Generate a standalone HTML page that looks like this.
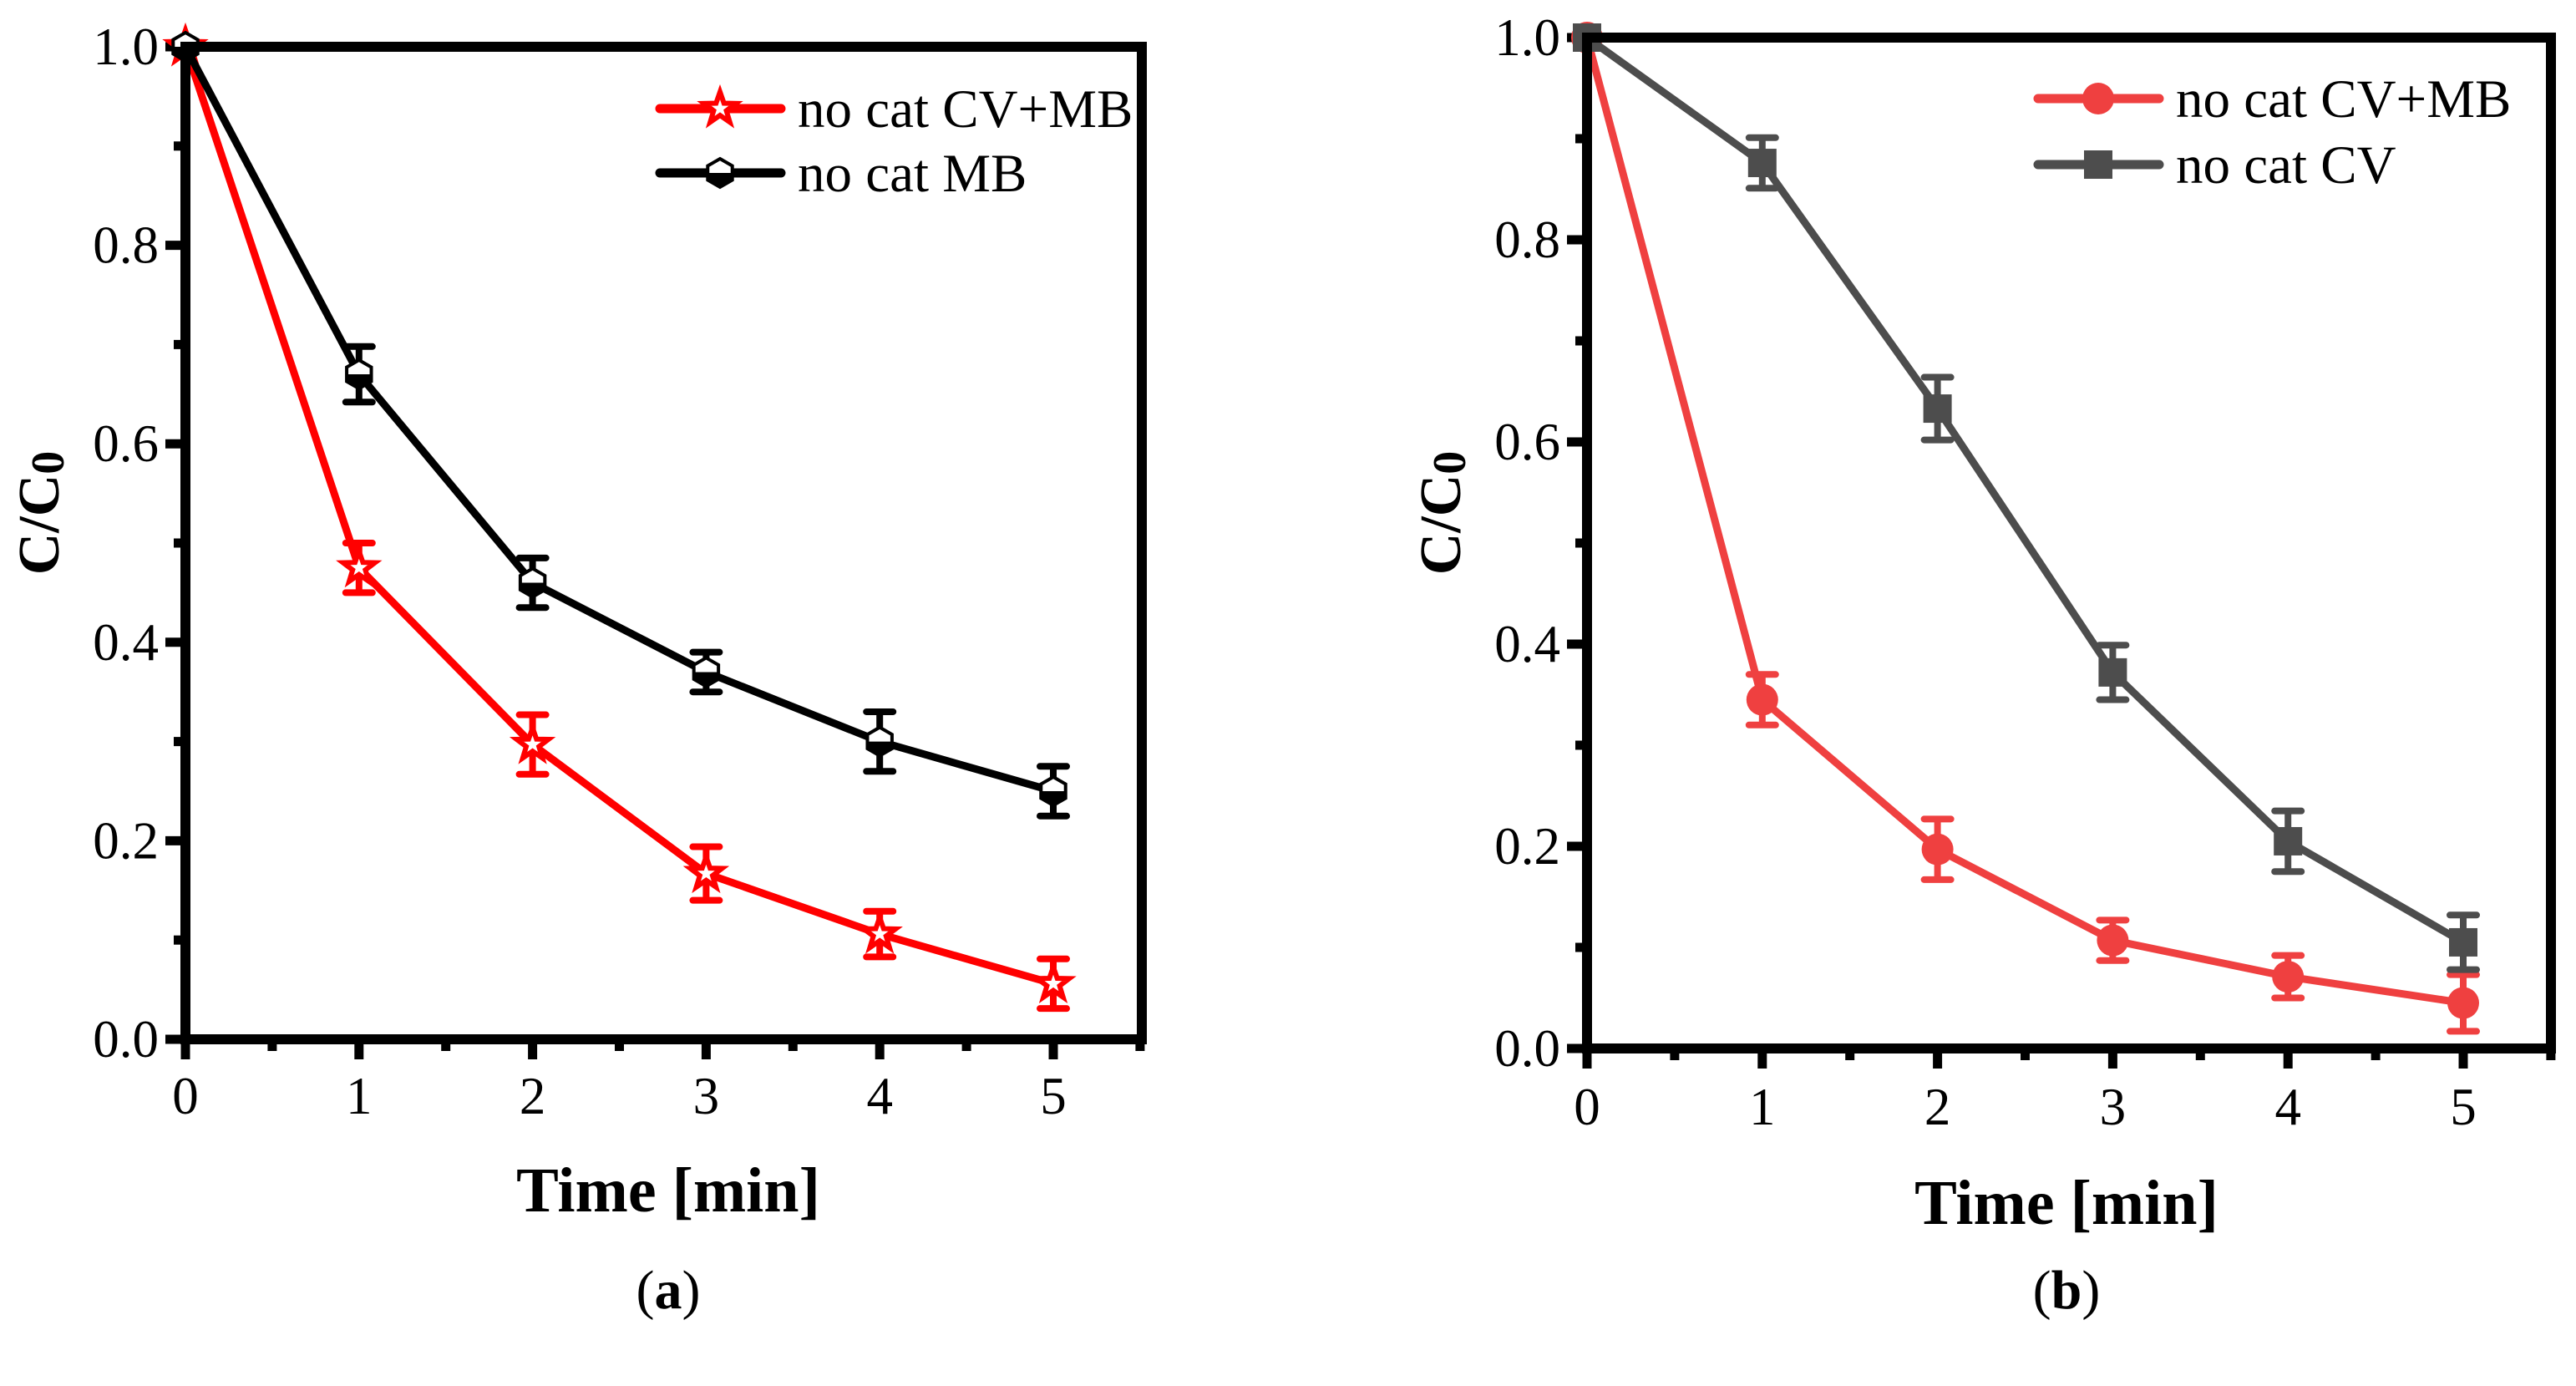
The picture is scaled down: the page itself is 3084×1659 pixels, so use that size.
<!DOCTYPE html>
<html><head><meta charset="utf-8"><style>
html,body{margin:0;padding:0;background:#fff;}
svg{display:block;font-family:"Liberation Serif",serif;}
</style></head><body>
<svg id="chart" width="3084" height="1659" viewBox="0 0 3084 1659" xmlns="http://www.w3.org/2000/svg"></svg>
<script>
const times = [0, 1, 2, 3, 4, 5];
const aRed = [1.0, 0.475, 0.297, 0.167, 0.106, 0.056];
const aRedErr = [0, 0.025, 0.03, 0.027, 0.023, 0.025];
const aBlack = [1.0, 0.67, 0.46, 0.37, 0.30, 0.25];
const aBlackErr = [0, 0.028, 0.025, 0.02, 0.03, 0.025];
const bRed = [1.0, 0.345, 0.197, 0.107, 0.071, 0.045];
const bRedErr = [0, 0.025, 0.03, 0.02, 0.021, 0.028];
const bGrey = [1.0, 0.876, 0.633, 0.372, 0.205, 0.105];
const bGreyErr = [0, 0.025, 0.031, 0.027, 0.03, 0.027];
const xTicks = ["0", "1", "2", "3", "4", "5"];
const yTicks = ["0.0", "0.2", "0.4", "0.6", "0.8", "1.0"];
const legendA = ["no cat CV+MB", "no cat MB"];
const legendB = ["no cat CV+MB", "no cat CV"];

const NS = "http://www.w3.org/2000/svg";
const svg = document.getElementById("chart");
function mk(tag, attrs, parent) {
  const e = document.createElementNS(NS, tag);
  for (const k in attrs) e.setAttribute(k, attrs[k]);
  (parent || svg).appendChild(e);
  return e;
}

function panel(cfg) {
  const g = mk("g", {});
  
  
  const L = cfg.left, R = cfg.right, T = cfg.top, B = cfg.bottom;
  const ux = (cfg.x5 - L) / 5;
  const X = v => L + v * ux;
  const Y = v => B - v * (B - T);
  for (let i = 0; i <= 11; i++) {
    const v = i * 0.5;
    const major = i % 2 === 0;
    const t = mk("line", {x1: X(v), x2: X(v), y1: B, y2: B + (major ? 24 : 14), stroke: "#000", "stroke-width": 11}, g);
    
    
  }
  for (let i = 0; i <= 10; i++) {
    const v = i * 0.1;
    const major = i % 2 === 0;
    const t = mk("line", {x1: L, x2: L - (major ? 24 : 14), y1: Y(v), y2: Y(v), stroke: "#000", "stroke-width": 11}, g);
    
    
  }
  xTicks.forEach((s, i) => {
    const t = mk("text", {x: X(times[i]), y: cfg.xLabelY, "font-size": 63, "text-anchor": "middle"}, g);
    t.textContent = s;
    
    
  });
  yTicks.forEach((s, i) => {
    const t = mk("text", {x: L - 32, y: Y(i * 0.2) + 21, "font-size": 63, "text-anchor": "end"}, g);
    t.textContent = s;
    
    
  });
  cfg.series.forEach((s, si) => {
    const sg = mk("g", {}, g);
    
    
    const pts = s.vals.map((v, i) => X(times[i]) + "," + Y(v)).join(" ");
    const pl = mk("polyline", {points: pts, fill: "none", stroke: s.color, "stroke-width": 9, "stroke-linejoin": "round"}, sg);
    
    
    s.vals.forEach((v, i) => {
      const e = s.err[i];
      if (e > 0) {
        const cx = X(times[i]);
        const eg = mk("path", {d: `M${cx},${Y(v + e)}V${Y(v - e)}M${cx - 16},${Y(v + e)}h32M${cx - 16},${Y(v - e)}h32`, stroke: s.color, "stroke-width": 8, fill: "none", "stroke-linecap": "round"}, sg);
        
        
      }
      marker(sg, s.marker, X(times[i]), Y(v), s.color);
    });
  });
  const fr = mk("rect", {x: L, y: T, width: R - L, height: B - T, fill: "none", stroke: "#000", "stroke-width": 12}, g);
  
  
  cfg.legend.forEach((lab, i) => {
    const s = cfg.series[i];
    const ly = cfg.legY + i * cfg.legGap;
    const lg = mk("g", {}, g);
    
    
    mk("line", {x1: cfg.legX, x2: cfg.legX + 145, y1: ly, y2: ly, stroke: s.color, "stroke-width": 11, "stroke-linecap": "round"}, lg);
    marker(lg, s.marker, cfg.legX + 72, ly, s.color);
    const t = mk("text", {x: cfg.legX + 165, y: ly + 22, "font-size": 65}, lg);
    t.textContent = lab;
  });
  const yl = mk("text", {x: 0, y: 0, "font-size": 70, "font-weight": "bold", "text-anchor": "middle", transform: `translate(${cfg.yTitleX},${cfg.yTitleY}) rotate(-90)`}, g);
  yl.innerHTML = 'C/C<tspan font-size="56" dy="6">0</tspan>';
  
  
  const xl = mk("text", {x: cfg.xTitleX, y: cfg.xTitleY, "font-size": 76, "font-weight": "bold", "text-anchor": "middle"}, g);
  xl.textContent = "Time [min]";
  
  
  const cap = mk("text", {x: cfg.xTitleX, y: 1566, "font-size": 66, "text-anchor": "middle"}, g);
  cap.innerHTML = '(<tspan font-weight="bold">' + cfg.caption + '</tspan>)';
  
  
}

function marker(parent, type, cx, cy, color) {
  let m;
  if (type === "star") {
    let d = "";
    for (let k = 0; k < 10; k++) {
      const r = k % 2 ? 8 : 20, a = -Math.PI / 2 + k * Math.PI / 5;
      d += (k ? "L" : "M") + (cx + r * Math.cos(a)) + "," + (cy + r * Math.sin(a));
    }
    m = mk("path", {d: d + "Z", fill: "#fff", stroke: color, "stroke-width": 6}, parent);
  } else if (type === "hex") {
    m = mk("g", {}, parent);
    let d = "";
    for (let k = 0; k < 6; k++) {
      const a = -Math.PI / 2 + k * Math.PI / 3;
      d += (k ? "L" : "M") + (cx + 17 * Math.cos(a)) + "," + (cy + 17 * Math.sin(a));
    }
    mk("path", {d: d + "Z", fill: "#fff", stroke: color, "stroke-width": 4}, m);
    mk("path", {d: `M${cx - 14.7},${cy}L${cx - 14.7},${cy + 8.5}L${cx},${cy + 17}L${cx + 14.7},${cy + 8.5}L${cx + 14.7},${cy}Z`, fill: color}, m);
  } else if (type === "circle") {
    m = mk("circle", {cx: cx, cy: cy, r: 19, fill: color}, parent);
  } else {
    m = mk("rect", {x: cx - 17, y: cy - 17, width: 34, height: 34, fill: color}, parent);
  }
  
  
}

panel({name: "panel-a", left: 222, right: 1367, top: 56, bottom: 1244, x5: 1261,
  xLabelY: 1333, xTitleX: 800, xTitleY: 1450, yTitleX: 70, yTitleY: 614, caption: "a",
  legX: 790, legY: 130, legGap: 77, legend: legendA,
  series: [
    {key: "cv-mb", vals: aRed, err: aRedErr, color: "#ff0000", marker: "star"},
    {key: "mb", vals: aBlack, err: aBlackErr, color: "#000000", marker: "hex"}
  ]});
panel({name: "panel-b", left: 1900, right: 3054, top: 45, bottom: 1255, x5: 2949,
  xLabelY: 1346, xTitleX: 2474, xTitleY: 1465, yTitleX: 1748, yTitleY: 614, caption: "b",
  legX: 2440, legY: 118, legGap: 79, legend: legendB,
  series: [
    {key: "cv-mb", vals: bRed, err: bRedErr, color: "#ef4040", marker: "circle"},
    {key: "cv", vals: bGrey, err: bGreyErr, color: "#4d4d4d", marker: "square"}
  ]});
</script>
</body></html>
